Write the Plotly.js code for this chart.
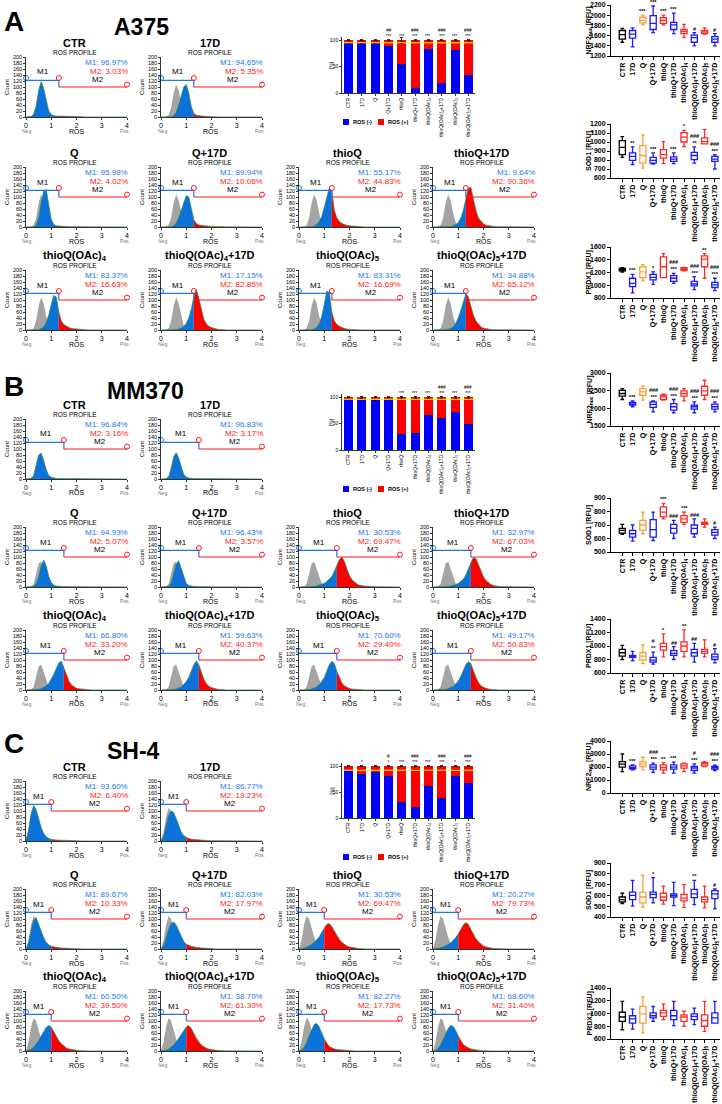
<!DOCTYPE html>
<html>
<head>
<meta charset="utf-8">
<script src="https://cdn.plot.ly/plotly-3.0.1.min.js"></script>
<style>
html, body { margin: 0; padding: 0; background: #ffffff; }
#fig { width: 722px; height: 1104px; }
</style>
</head>
<body>
<div id="fig"></div>
<script>
// ---------- data ----------
const CONDITIONS = ['CTR', '17D', 'Q', 'Q+17D', 'thioQ', 'thioQ+17D',
  'thioQ(OAc)<sub>4</sub>', 'thioQ(OAc)<sub>4</sub>+17D',
  'thioQ(OAc)<sub>5</sub>', 'thioQ(OAc)<sub>5</sub>+17D'];

// ROS fluorescence bins shared by all histograms
const ROS_X = [0, 0.1, 0.2, 0.3, 0.4, 0.5, 0.6, 0.7, 0.8, 0.9, 1.0, 1.1, 1.2, 1.3, 1.4,
  1.5, 1.6, 1.7, 1.8, 1.9, 2.0, 2.1, 2.2, 2.3, 2.4, 2.5, 2.6, 3.0, 4.0];

// A375
const CTRL_A375 = [0,0,1,6,30,80,108,88,45,15,5,2,1,0,0,0,0,0,0,0,0,0,0,0,0,0,0,0,0];
const HIST_A375 = [
  [0,0,2,8,35,88,118,95,52,20,8,4,3,3,3,2,2,2,1,1,1,1,1,0,0,0,0,0,0],
  [0,0,0,0,1,4,15,38,70,100,108,80,35,12,6,4,3,2,2,1,1,1,0,0,0,0,0,0,0],
  [0,0,0,1,6,30,80,118,125,70,25,8,4,3,2,2,1,1,1,1,0,0,0,0,0,0,0,0,0],
  [0,0,0,0,1,4,12,30,55,85,105,100,60,25,12,7,5,4,3,2,2,1,1,1,0,0,0,0,0],
  [0,0,0,0,0,1,3,8,18,35,65,100,130,118,55,30,18,12,8,5,4,3,2,2,1,1,0,0,0],
  [0,0,0,0,0,0,1,2,4,8,15,30,55,95,130,132,90,55,30,18,10,6,4,3,2,1,1,0,0],
  [0,0,0,0,0,1,4,10,25,50,85,115,110,60,30,18,12,8,5,4,3,2,1,1,0,0,0,0,0],
  [0,0,0,0,0,0,1,3,6,12,22,40,70,110,135,105,65,35,20,12,8,5,3,2,1,1,0,0,0],
  [0,0,0,0,0,1,3,8,20,45,85,130,125,60,30,18,12,8,5,3,2,2,1,1,0,0,0,0,0],
  [0,0,0,0,0,1,2,5,10,22,40,65,95,120,110,80,50,30,18,10,6,4,3,2,1,1,0,0,0]
];
const M1_A375 = ['96.97', '94.65', '95.98', '89.94', '55.17', '9.64', '83.37', '17.15', '83.31', '34.88'];
const M2_A375 = ['3.03', '5.35', '4.02', '10.06', '44.83', '90.36', '16.63', '82.85', '16.69', '65.12'];
const GATE_A375 = 1.3;

// MM370
const CTRL_MM370 = [0,0,2,10,40,78,85,62,32,12,5,2,1,0,0,0,0,0,0,0,0,0,0,0,0,0,0,0,0];
const HIST_MM370 = [
  [0,0,2,10,42,80,86,62,30,12,6,3,2,2,2,1,1,1,1,1,1,0,0,0,0,0,0,0,0],
  [0,0,1,6,30,70,88,70,38,15,7,3,2,2,2,1,1,1,1,1,0,0,0,0,0,0,0,0,0],
  [0,0,0,2,10,35,70,90,70,35,15,6,3,2,2,2,1,1,1,1,1,0,0,0,0,0,0,0,0],
  [0,0,0,2,12,40,75,88,62,30,12,5,3,2,2,1,1,1,1,0,0,0,0,0,0,0,0,0,0],
  [0,0,0,0,0,1,2,4,6,8,12,18,25,35,52,72,92,100,85,60,38,24,15,9,6,4,3,1,0],
  [0,0,0,0,0,1,2,3,5,8,12,18,26,40,60,82,98,95,75,52,34,21,13,8,5,3,2,1,0],
  [0,0,0,0,1,2,4,8,14,22,35,52,72,90,96,74,48,29,17,10,6,4,3,2,1,1,0,0,0],
  [0,0,0,0,1,2,3,6,10,18,28,42,62,84,97,84,58,36,21,12,8,5,3,2,1,1,0,0,0],
  [0,0,0,0,1,3,6,10,18,28,42,62,84,96,88,62,39,23,13,8,5,3,2,1,1,0,0,0,0],
  [0,0,0,0,1,2,4,7,12,20,30,45,64,84,94,88,64,41,25,14,9,5,3,2,1,1,0,0,0]
];
const M1_MM370 = ['96.84', '96.83', '94.93', '96.43', '30.53', '32.97', '66.80', '59.63', '70.60', '49.17'];
const M2_MM370 = ['3.16', '3.17', '5.07', '3.57', '69.47', '67.03', '33.20', '40.37', '29.40', '50.83'];
const GATE_MM370 = 1.5;

// SH-4
const CTRL_SH4 = [2,30,80,110,100,70,40,20,10,5,2,1,0,0,0,0,0,0,0,0,0,0,0,0,0,0,0,0,0];
const HIST_SH4 = [
  [3,35,90,118,105,75,45,25,14,8,5,4,3,3,2,2,2,1,1,1,1,0,0,0,0,0,0,0,0],
  [2,15,50,85,100,95,75,50,30,18,12,8,6,5,4,3,3,2,2,1,1,1,0,0,0,0,0,0,0],
  [2,20,60,95,105,85,60,38,22,14,9,7,5,4,3,3,2,2,1,1,1,0,0,0,0,0,0,0,0],
  [1,10,35,65,85,90,80,60,40,25,16,12,9,7,5,4,3,3,2,2,1,1,0,0,0,0,0,0,0],
  [0,1,3,6,10,15,22,30,40,55,70,82,85,75,60,45,32,22,15,10,7,5,3,2,1,1,0,0,0],
  [0,1,2,4,7,10,15,20,28,38,50,65,80,88,82,65,48,34,24,16,10,7,4,3,2,1,1,0,0],
  [0,2,6,12,22,35,50,65,78,85,80,65,48,34,24,16,10,7,5,3,2,1,1,0,0,0,0,0,0],
  [0,1,3,6,12,20,30,42,55,68,80,85,75,58,42,30,20,14,9,6,4,3,2,1,1,0,0,0,0],
  [0,3,12,28,50,72,88,92,80,60,40,25,15,10,7,5,4,3,2,1,1,0,0,0,0,0,0,0,0],
  [0,2,8,20,38,58,75,85,82,68,50,34,22,15,10,7,5,3,2,1,1,0,0,0,0,0,0,0,0]
];
const M1_SH4 = ['93.60', '86.77', '89.67', '82.03', '30.53', '20.27', '60.50', '38.70', '82.27', '68.60'];
const M2_SH4 = ['6.40', '13.23', '10.33', '17.97', '69.47', '79.73', '39.50', '61.30', '17.73', '31.40'];
const GATE_SH4 = 1.0;

// ROS(-) fraction [%] with error bars (ROS(+) = remainder)
const ROSNEG_A375 = [95, 94, 94, 89, 54, 9, 83, 18, 82, 35];
const ROSNEG_ERR_A375 = [1, 1, 1, 1.5, 5, 1, 2, 1.5, 2, 2];
const ROSTOT_ERR_A375 = [1, 1, 1, 1, 6, 1, 1, 1, 1, 1];
const SIG_BAR_A375 = ['', '', '', '##<br>***', '***', '###<br>***', '***', '###<br>***', '***', '###<br>***'];

const ROSNEG_MM370 = [96, 96, 94, 96, 31, 33, 67, 60, 71, 49];
const ROSNEG_ERR_MM370 = [1, 1, 1, 1, 2, 2, 2, 2, 3, 2];
const ROSTOT_ERR_MM370 = [1, 2, 1, 1, 2, 2, 2, 2, 2, 2];
const SIG_BAR_MM370 = ['', '', '', '', '***', '***', '***', '###<br>***', '***', '###<br>***'];

const ROSNEG_SH4 = [92, 85, 89, 81, 31, 21, 62, 38, 81, 68];
const ROSNEG_ERR_SH4 = [1, 1.5, 1, 1.5, 2, 1.5, 1.5, 2, 1.5, 2];
const ROSTOT_ERR_SH4 = [1, 1, 1, 1, 1, 1, 1, 1, 1, 1];
const SIG_BAR_SH4 = ['', '*', '', '#<br>*', '***', '###<br>***', '***', '###<br>***', '*', '###<br>***'];

// Box statistics per condition: [min, q1, median, q3, max] in RFU
const NRF2_A375 = [[1470,1530,1620,1700,1740],[1380,1550,1630,1700,1750],[1810,1850,1900,1960,2000],
  [1660,1720,1840,1990,2180],[1810,1840,1900,1950,2000],[1640,1720,1810,1860,2040],
  [1560,1640,1680,1720,1820],[1400,1470,1560,1610,1660],[1630,1640,1670,1700,1750],[1400,1470,1530,1580,1640]];
const SOD1_A375 = [[830,860,940,1015,1060],[750,795,840,880,945],[710,765,850,960,1080],
  [755,765,795,830,880],[760,820,860,915,1005],[760,785,810,835,880],
  [950,1000,1055,1105,1130],[765,805,850,885,945],[980,980,1005,1045,1140],[700,785,810,840,860]];
const PRDX1_A375 = [[1205,1225,1245,1265,1275],[880,980,1030,1110,1170],[1070,1120,1210,1290,1325],
  [1015,1085,1125,1170,1210],[1120,1120,1290,1445,1495],[1030,1060,1110,1150,1185],
  [1225,1235,1255,1275,1280],[930,990,1020,1060,1135],[1110,1290,1410,1460,1495],[915,965,1005,1045,1110]];
const SIG_NRF2_A375 = ['', '', '***', '***', '***', '***', '', '#', '', '#'];
const SIG_SOD1_A375 = ['', '**', '', '***', '', '***', '*', '###<br>**', '', '###<br>***'];
const SIG_PRDX1_A375 = ['', '***', '', '*', '', '###<br>***', '', '###<br>***', '**', '###<br>***'];

const NRF2_MM370 = [[2250,2345,2420,2510,2560],[2045,2090,2120,2165,2210],[2230,2370,2465,2560,2625],
  [1900,2025,2110,2185,2210],[2230,2250,2325,2370,2400],[1875,1950,2045,2135,2250],
  [2210,2345,2420,2495,2560],[1875,1980,2045,2090,2185],[2250,2370,2495,2625,2795],[1900,1980,2045,2120,2185]];
const SOD1_MM370 = [[630,640,660,675,705],[580,610,635,660,700],[635,660,700,735,795],
  [585,610,665,740,795],[745,760,795,835,860],[600,640,675,705,735],
  [705,720,745,770,795],[610,635,675,700,745],[685,705,715,720,745],[600,625,645,665,685]];
const PRDX1_MM370 = [[800,850,900,950,1010],[780,830,845,860,920],[740,790,850,900,1020],
  [730,760,790,830,910],[840,940,990,1040,1180],[800,860,890,930,990],
  [840,920,1000,1060,1240],[760,850,900,950,1040],[840,890,920,950,1090],[750,800,840,880,960]];
const SIG_NRF2_MM370 = ['', '***', '', '###<br>***', '', '###<br>***', '', '###<br>***', '', '###<br>***'];
const SIG_SOD1_MM370 = ['', '', '', '', '***', '###', '***', '###', '', '#'];
const SIG_PRDX1_MM370 = ['', '', '', '#<br>**', '*', '##', '**', '##', '', '#'];

const NRF2_SH4 = [[1650,1990,2220,2420,3000],[1780,1860,1950,2090,2170],[1780,2040,2240,2420,2750],
  [1580,1830,1990,2170,2300],[1530,1780,1960,2170,2340],[1530,1830,1990,2170,2370],
  [1650,1910,2090,2240,2290],[1530,1730,1910,2040,2240],[2040,2090,2240,2340,2420],[1730,1830,1950,2040,2140]];
const SOD1_SH4 = [[525,540,560,585,620],[500,560,600,630,740],[490,530,585,630,785],
  [530,580,610,630,765],[520,555,585,620,685],[505,585,600,615,720],
  [490,550,575,610,700],[515,580,615,655,740],[485,540,560,585,685],[475,570,615,645,660]];
const PRDX1_SH4 = [[745,875,945,1020,1190],[755,850,915,965,1070],[695,850,995,1110,1260],
  [875,930,965,1010,1110],[905,955,1010,1050,1150],[810,905,965,1050,1190],
  [800,875,945,980,1035],[825,905,955,995,1085],[720,800,890,980,1190],[850,850,930,1010,1190]];
const SIG_NRF2_SH4 = ['', '***', '', '###<br>***', '**', '***', '', '#<br>***', '', '###<br>***'];
const SIG_SOD1_SH4 = ['', '', '', '*', '', '', '', '**', '', '#'];
const SIG_PRDX1_SH4 = ['', '', '', '', '', '', '', '', '', ''];

// ---------- drawing ----------
const W = 722, H = 1104;
const px = v => v / W;
const py = v => 1 - v / H;
const FONT = 'Liberation Sans, Arial, sans-serif';
const COL = {
  black: '#000000', blue: '#1a1aff', orange: '#f7a23a', red: '#ff2a2a',
  histBlue: '#0a72d8', histRed: '#ff0000', histGray: '#a4a4a4', outline: '#2b8a4a',
  m1: '#1e78e6', m2: '#ff1a1a'
};
const BOX_COLORS = [COL.black, COL.blue, COL.orange, COL.blue, COL.red, COL.blue, COL.red, COL.blue, COL.red, COL.blue];

const traces = [];
const annotations = [];
const shapes = [];
const layout = {
  width: W, height: H,
  margin: {l: 0, r: 0, t: 0, b: 0},
  paper_bgcolor: '#ffffff', plot_bgcolor: 'rgba(0,0,0,0)',
  showlegend: false, barmode: 'stack', boxmode: 'overlay',
  font: {family: FONT, color: '#000000'},
  annotations, shapes
};

let axisCount = 0;
function newAxes(left, right, top, bottom, xopts, yopts) {
  axisCount += 1;
  const n = axisCount === 1 ? '' : String(axisCount);
  const base = {showgrid: false, zeroline: false, showline: true, linecolor: '#000', fixedrange: true,
    ticks: 'outside', tickcolor: '#000'};
  layout['xaxis' + n] = Object.assign({}, base, {domain: [px(left), px(right)], anchor: 'y' + n}, xopts);
  layout['yaxis' + n] = Object.assign({}, base, {domain: [py(bottom), py(top)], anchor: 'x' + n}, yopts);
  return {x: 'x' + n, y: 'y' + n};
}

function text(t, x, y, size, opts) {
  annotations.push(Object.assign({text: t, x: px(x), y: py(y), xref: 'paper', yref: 'paper',
    showarrow: false, font: {size: size, family: FONT, color: '#000'}, xanchor: 'center', yanchor: 'middle'}, opts || {}));
}

// one flow-cytometry histogram panel
function drawHistogram(ctrl, sample, gate, m1, m2, title, left, top) {
  const right = left + 101, bottom = top + 60;
  const ax = newAxes(left, right, top, bottom,
    {range: [0, 4], tickvals: [0, 1, 2, 3, 4], ticklen: 2, linewidth: 0.8, tickwidth: 0.8,
     tickfont: {size: 7, family: FONT}},
    {range: [0, 200], tickvals: [0,20,40,60,80,100,120,140,160,180,200], ticklen: 2, linewidth: 0.8,
     tickwidth: 0.8, tickfont: {size: 5.5, family: FONT}});
  const common = {type: 'scatter', mode: 'lines', xaxis: ax.x, yaxis: ax.y, hoverinfo: 'skip'};
  traces.push(Object.assign({}, common, {x: ROS_X, y: ctrl, fill: 'tozeroy',
    fillcolor: COL.histGray, line: {width: 0, color: COL.histGray}}));
  const lo = {x: [], y: []}, hi = {x: [], y: []};
  ROS_X.forEach((x, i) => {
    if (x <= gate + 1e-9) { lo.x.push(x); lo.y.push(sample[i]); }
    if (x >= gate - 1e-9) { hi.x.push(x); hi.y.push(sample[i]); }
  });
  traces.push(Object.assign({}, common, {x: lo.x, y: lo.y, fill: 'tozeroy', fillcolor: COL.histBlue,
    line: {width: 0, color: COL.histBlue}}));
  traces.push(Object.assign({}, common, {x: hi.x, y: hi.y, fill: 'tozeroy', fillcolor: COL.histRed,
    line: {width: 0, color: COL.histRed}}));
  traces.push(Object.assign({}, common, {x: ROS_X, y: sample, line: {width: 0.7, color: COL.outline}}));

  // M1 / M2 gate markers
  traces.push(Object.assign({}, common, {x: [0, gate, gate], y: [122, 122, 100], cliponaxis: false,
    line: {width: 1.2, color: COL.m1}}));
  traces.push(Object.assign({}, common, {x: [gate, 4], y: [100, 100], cliponaxis: false,
    line: {width: 1.2, color: COL.m2}}));
  traces.push(Object.assign({}, common, {mode: 'markers', x: [0, gate, 4], y: [130, 130, 108], cliponaxis: false,
    marker: {symbol: 'circle-open', size: 5, color: [COL.m1, COL.m2, COL.m2], line: {width: 1}}}));

  const dref = {xref: ax.x, yref: ax.y, showarrow: false};
  annotations.push(Object.assign({}, dref, {x: gate * 0.52, y: 150, text: 'M1', font: {size: 8, family: FONT}}));
  annotations.push(Object.assign({}, dref, {x: gate + (4 - gate) * 0.58, y: 126, text: 'M2', font: {size: 8, family: FONT}}));
  annotations.push(Object.assign({}, dref, {x: 4, y: 182, xanchor: 'right', xshift: 3, text: 'M1: ' + m1 + '%',
    font: {size: 8, family: FONT, color: COL.m1}}));
  annotations.push(Object.assign({}, dref, {x: 4, y: 152, xanchor: 'right', xshift: 3, text: 'M2: ' + m2 + '%',
    font: {size: 8, family: FONT, color: COL.m2}}));

  const cx = (left + right) / 2 - 2;
  text(title, cx, top - 14, 11, {font: {size: 11, family: FONT, weight: 'bold', color: '#000'}});
  text('ROS PROFILE', cx, top - 4.5, 6.5);
  text('ROS', (left + right) / 2, bottom + 14, 7);
  text('Neg.', left + 2, bottom + 14, 5, {font: {size: 5, family: FONT, color: '#777'}});
  text('Pos.', right - 2, bottom + 14, 5, {font: {size: 5, family: FONT, color: '#777'}});
  text('Count', left - 19, (top + bottom) / 2, 6, {textangle: -90});
}

// stacked ROS(-)/ROS(+) bar chart
function drawBars(neg, negErr, totErr, sig, left, right, top, bottom, legendY) {
  const ax = newAxes(left, right, top, bottom,
    {range: [-0.5, 9.5], tickvals: CONDITIONS.map((c, i) => i), ticktext: CONDITIONS, tickangle: -90,
     ticklen: 2, linewidth: 0.8, tickwidth: 0.8, tickfont: {size: 5, family: FONT}},
    {range: [0, 106], tickvals: [0, 50, 100], ticklen: 2, linewidth: 0.8, tickwidth: 0.8,
     tickfont: {size: 5, family: FONT}});
  const xs = neg.map((v, i) => i);
  traces.push({type: 'bar', x: xs, y: neg, width: 0.68, xaxis: ax.x, yaxis: ax.y, hoverinfo: 'skip',
    marker: {color: '#0000ff', line: {width: 0}},
    error_y: {type: 'data', array: negErr, symmetric: true, color: '#000', thickness: 0.8, width: 1.5}});
  traces.push({type: 'bar', x: xs, y: neg.map(v => 100 - v), width: 0.68, xaxis: ax.x, yaxis: ax.y, hoverinfo: 'skip',
    marker: {color: '#ff0000', line: {width: 0}},
    error_y: {type: 'data', array: totErr, symmetric: true, color: '#000', thickness: 0.8, width: 1.5}});
  shapes.push({type: 'line', xref: ax.x, yref: ax.y, x0: -0.5, x1: 9.5, y0: neg[0], y1: neg[0],
    line: {color: '#ffff00', width: 1}});
  sig.forEach((s, i) => {
    if (!s) return;
    annotations.push({xref: ax.x, yref: ax.y, x: i, y: 101, yanchor: 'bottom', text: s, showarrow: false,
      font: {size: 4.5, family: FONT}, borderpad: 0});
  });
  text('[%]', left - 11, (top + bottom) / 2, 5, {textangle: -90});
  // legend
  shapes.push({type: 'rect', xref: 'paper', yref: 'paper', x0: px(left + 1), x1: px(left + 7),
    y0: py(legendY + 3), y1: py(legendY - 3), fillcolor: '#0000ff', line: {width: 0}});
  text('ROS (-)', left + 9, legendY, 5.5, {xanchor: 'left', font: {size: 5.5, family: FONT, weight: 'bold', color: '#000'}});
  shapes.push({type: 'rect', xref: 'paper', yref: 'paper', x0: px(left + 36), x1: px(left + 42),
    y0: py(legendY + 3), y1: py(legendY - 3), fillcolor: '#ff0000', line: {width: 0}});
  text('ROS (+)', left + 44, legendY, 5.5, {xanchor: 'left', font: {size: 5.5, family: FONT, weight: 'bold', color: '#000'}});
}

// box plot of a protein level across conditions
function drawBoxes(stats, sig, yTitle, yRange, dtick, top, bottom) {
  const left = 611, right = 720;
  const ax = newAxes(left, right, top, bottom,
    {range: [-1.1, 9.5], tickvals: CONDITIONS.map((c, i) => i), ticktext: CONDITIONS, tickangle: -90,
     ticklen: 3, linewidth: 1, tickwidth: 1, tickfont: {size: 7, family: FONT, weight: 'bold'}},
    {range: yRange, dtick: dtick, tick0: 0, ticklen: 3, linewidth: 1, tickwidth: 1,
     tickfont: {size: 7, family: FONT, weight: 'bold'}});
  stats.forEach((s, i) => {
    traces.push({type: 'box', orientation: 'v', x: [i], lowerfence: [s[0]], q1: [s[1]], median: [s[2]],
      q3: [s[3]], upperfence: [s[4]], width: 0.6, whiskerwidth: 0.6, boxpoints: false,
      xaxis: ax.x, yaxis: ax.y, hoverinfo: 'skip',
      line: {color: BOX_COLORS[i], width: 1.3}, fillcolor: 'rgba(255,255,255,0)'});
    if (sig[i]) {
      annotations.push({xref: ax.x, yref: ax.y, x: i, y: s[4], yanchor: 'bottom', text: sig[i], showarrow: false,
        font: {size: 5.5, family: FONT, weight: 'bold'}, borderpad: 0});
    }
  });
  text(yTitle, 589, (top + bottom) / 2, 7, {textangle: -90, font: {size: 7, family: FONT, weight: 'bold', color: '#000'}});
}

const COL_LEFT = [26, 161, 299, 433];
const SECTIONS = [
  {letter: 'A', name: 'A375', letterY: 22, nameX: 141, nameY: 27, ctrl: CTRL_A375, hist: HIST_A375,
   m1: M1_A375, m2: M2_A375, gate: GATE_A375, rows: [57, 167, 270],
   bars: [ROSNEG_A375, ROSNEG_ERR_A375, ROSTOT_ERR_A375, SIG_BAR_A375], barTop: 37, barBottom: 93, legendY: 122,
   boxes: [[NRF2_A375, SIG_NRF2_A375, 'NRF2<sub>nuc</sub> [RFU]', [1200, 2200], 200, 5, 56],
           [SOD1_A375, SIG_SOD1_A375, 'SOD1 [RFU]', [600, 1200], 100, 124, 178],
           [PRDX1_A375, SIG_PRDX1_A375, 'PRDX1 [RFU]', [800, 1600], 200, 247, 298]]},
  {letter: 'B', name: 'MM370', letterY: 386, nameX: 145, nameY: 391, ctrl: CTRL_MM370, hist: HIST_MM370,
   m1: M1_MM370, m2: M2_MM370, gate: GATE_MM370, rows: [419, 527, 630],
   bars: [ROSNEG_MM370, ROSNEG_ERR_MM370, ROSTOT_ERR_MM370, SIG_BAR_MM370], barTop: 394, barBottom: 450, legendY: 489,
   boxes: [[NRF2_MM370, SIG_NRF2_MM370, 'NRF2<sub>nuc</sub> [RFU]', [1500, 3000], 500, 373, 426],
           [SOD1_MM370, SIG_SOD1_MM370, 'SOD1 [RFU]', [500, 900], 100, 498, 552],
           [PRDX1_MM370, SIG_PRDX1_MM370, 'PRDX1 [RFU]', [600, 1400], 200, 619, 673]]},
  {letter: 'C', name: 'SH-4', letterY: 743, nameX: 133, nameY: 751, ctrl: CTRL_SH4, hist: HIST_SH4,
   m1: M1_SH4, m2: M2_SH4, gate: GATE_SH4, rows: [781, 889, 991],
   bars: [ROSNEG_SH4, ROSNEG_ERR_SH4, ROSTOT_ERR_SH4, SIG_BAR_SH4], barTop: 763, barBottom: 818, legendY: 857,
   boxes: [[NRF2_SH4, SIG_NRF2_SH4, 'NRF2<sub>nuc</sub> [RFU]', [0, 4000], 1000, 741, 793],
           [SOD1_SH4, SIG_SOD1_SH4, 'SOD1 [RFU]', [400, 900], 100, 863, 917],
           [PRDX1_SH4, SIG_PRDX1_SH4, 'PRDX1 [RFU]', [600, 1400], 200, 988, 1039]]}
];

SECTIONS.forEach(sec => {
  text(sec.letter, 14, sec.letterY, 28, {font: {size: 28, family: FONT, weight: 'bold', color: '#000'}});
  text(sec.name, sec.nameX, sec.nameY, 23, {font: {size: 23, family: FONT, weight: 'bold', color: '#000'}});
  const layoutRows = [[0, 1], [2, 3, 4, 5], [6, 7, 8, 9]];
  layoutRows.forEach((conds, r) => {
    conds.forEach((ci, c) => {
      drawHistogram(sec.ctrl, sec.hist[ci], sec.gate, sec.m1[ci], sec.m2[ci], CONDITIONS[ci],
        COL_LEFT[c], sec.rows[r]);
    });
  });
  drawBars(sec.bars[0], sec.bars[1], sec.bars[2], sec.bars[3], 342, 475, sec.barTop, sec.barBottom, sec.legendY);
  sec.boxes.forEach(b => drawBoxes(b[0], b[1], b[2], b[3], b[4], b[5], b[6]));
});

Plotly.newPlot('fig', traces, layout, {staticPlot: true});
</script>
</body>
</html>
